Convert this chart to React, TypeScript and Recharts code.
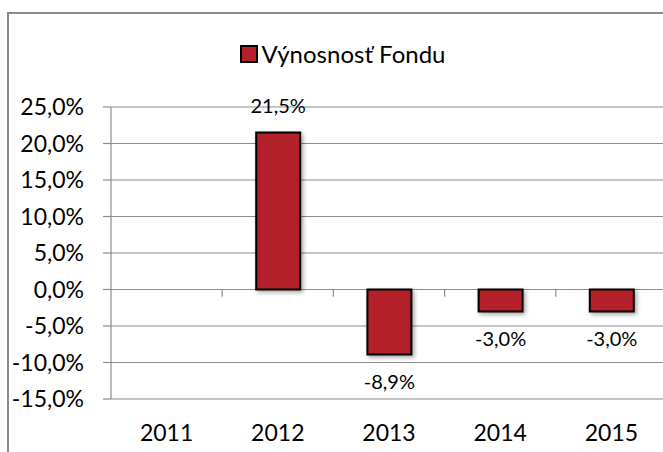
import React from 'react';
import { BarChart, Bar, XAxis, YAxis, CartesianGrid, Legend, LabelList, ReferenceLine, Rectangle } from 'recharts';

// Roky a výnosnosť fondu (v %)
const years = ['2011', '2012', '2013', '2014', '2015'];
const returns: (number | null)[] = [null, 21.5, -8.9, -3.0, -3.0];
const yTicks = [-15, -10, -5, 0, 5, 10, 15, 20, 25];
// malé značky osi medzi kategóriami (na začiatku pásma daného roka)
const boundaryYears = ['2012', '2013', '2014', '2015'];

const SERIES_NAME = 'Výnosnosť Fondu';
const BAR_COLOR = '#b3202a';
const GRID_COLOR = '#8c8c8c';
const FONT = 'Lato, "Open Sans", sans-serif';

const data = years.map((year, i) => ({ year, value: returns[i] }));

const fmt = (v: any) => {
  if (v === null || v === undefined) return '';
  return Number(v).toFixed(1).replace('.', ',') + '%';
};

const LegendContent = () => (
  <div style={{ display: 'flex', justifyContent: 'center', alignItems: 'center', height: 30, fontFamily: FONT }}>
    <span style={{ width: 14, height: 14, background: BAR_COLOR, border: '2px solid #000', marginRight: 4 }} />
    <span style={{ fontSize: 24, lineHeight: '30px', color: '#000' }}>{SERIES_NAME}</span>
  </div>
);

const ShadowBar = (props: any) => (
  <Rectangle {...props} style={{ filter: 'drop-shadow(2px 2px 2px rgba(0,0,0,0.35))' }} />
);

export default function App() {
  return (
    <div style={{ position: 'absolute', left: 0, top: 0, width: 663, height: 452, background: '#fff', overflow: 'hidden' }}>
      <div style={{ position: 'absolute', left: 7, top: 12, right: -10, bottom: -10, borderLeft: '2px solid #8a8a8a', borderTop: '2px solid #8a8a8a' }} />
      <BarChart
        width={663}
        height={452}
        data={data}
        margin={{ top: 77, right: -4, bottom: 0, left: 0 }}
        barSize={44}
        style={{ fontFamily: FONT, position: 'absolute', left: 0, top: 0 }}
      >
        <CartesianGrid vertical={false} stroke={GRID_COLOR} strokeWidth={1.2} />
        <XAxis
          dataKey="year"
          height={53}
          axisLine={false}
          tickLine={false}
          tickSize={0}
          tickMargin={26}
          tick={{ fill: '#000', fontSize: 23 }}
        />
        <YAxis
          width={111}
          domain={[-15, 25]}
          ticks={yTicks}
          interval={0}
          tickFormatter={fmt}
          tickSize={8}
          tickMargin={19}
          axisLine={{ stroke: GRID_COLOR, strokeWidth: 1.2 }}
          tickLine={{ stroke: GRID_COLOR, strokeWidth: 1.2 }}
          tick={{ fill: '#000', fontSize: 23 }}
        />
        <Legend verticalAlign="top" content={LegendContent} wrapperStyle={{ top: 39, left: 11, width: 663 }} />
        {boundaryYears.map((y) => (
          <ReferenceLine
            key={y}
            position="start"
            segment={[{ x: y, y: 0 }, { x: y, y: -1 }]}
            stroke={GRID_COLOR}
            strokeWidth={1.2}
          />
        ))}
        <Bar
          dataKey="value"
          name={SERIES_NAME}
          fill={BAR_COLOR}
          stroke="#000"
          strokeWidth={2}
          shape={ShadowBar}
          isAnimationActive={false}
        >
          <LabelList dataKey="value" position="top" offset={20} formatter={fmt} fill="#000" fontSize={20} />
        </Bar>
      </BarChart>
    </div>
  );
}
